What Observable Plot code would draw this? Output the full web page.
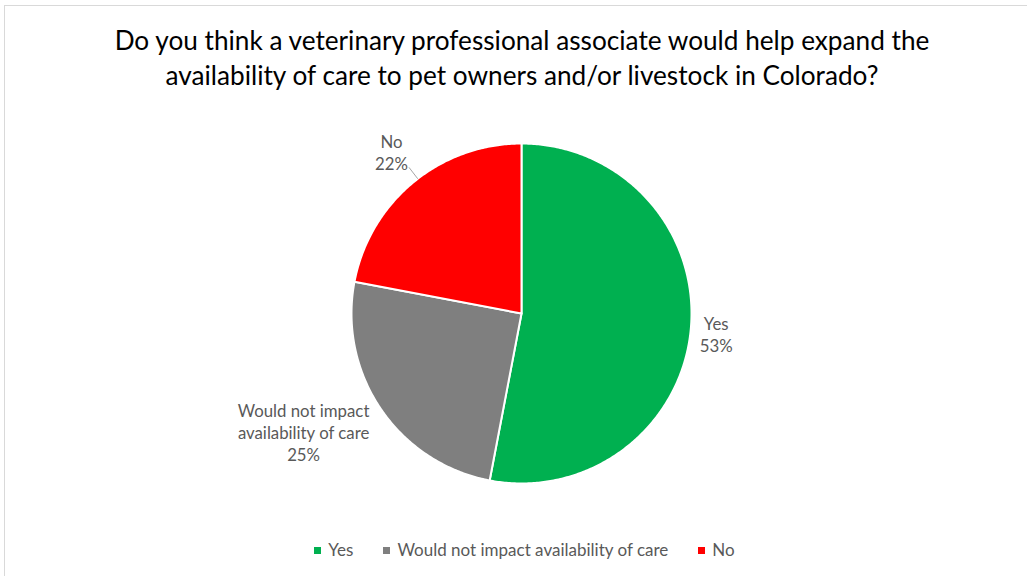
<!DOCTYPE html>
<html>
<head>
<meta charset="utf-8">
<script src="https://cdn.jsdelivr.net/npm/d3@7"></script>
<script src="https://cdn.jsdelivr.net/npm/@observablehq/plot@0.6"></script>
<style>
  html, body { margin: 0; padding: 0; background: #ffffff; }
  #frame { position: relative; width: 1027px; height: 576px; overflow: hidden; font-family: Lato, "Open Sans", sans-serif; }
  #frame .bt { position: absolute; left: 4px; top: 5px; right: 0; height: 0; border-top: 1px solid #d9d9d9; }
  #frame .bl { position: absolute; left: 4px; top: 5px; bottom: 0; width: 0; border-left: 1px solid #d9d9d9; }
  #title { position: absolute; left: 0; top: 23px; width: 1044px; text-align: center; font-size: 26.2px; line-height: 35px; color: #000; }
  #chart { position: absolute; left: 0; top: 110px; }
  #legend { position: absolute; left: 11px; top: 539px; width: 1027px; text-align: center; font-size: 17px; color: #595959; }
  #legend span.item { display: inline-block; margin: 0 15px; }
  #legend span.sw { display: inline-block; width: 7px; height: 7px; margin-right: 7px; vertical-align: middle; position: relative; top: -1px; }
</style>
</head>
<body>
<div id="frame">
  <div class="bt"></div><div class="bl"></div>
  <div id="title"></div>
  <div id="chart"></div>
  <div id="legend"></div>
</div>
<script>
// ---- data ----
const titleLines = [
  "Do you think a veterinary professional associate would help expand the",
  "availability of care to pet owners and/or livestock in Colorado?"
];
const categories = ["Yes", "Would not impact availability of care", "No"];
const labelLines = [["Yes"], ["Would not impact", "availability of care"], ["No"]];
const values = [53, 25, 22];
const colors = ["#00B050", "#7F7F7F", "#FF0000"];

// ---- layout ----
const W = 1027, H = 420;
const R = 170;             // pie radius in px
const cx = 521, cy = 203;  // pie centre inside the svg
const total = d3.sum(values);

// slices (clockwise from 12 o'clock)
let acc = 0;
const slices = categories.map((c, i) => {
  const a0 = acc / total * 2 * Math.PI;
  acc += values[i];
  const a1 = acc / total * 2 * Math.PI;
  return {cat: c, value: values[i], a0, a1, mid: (a0 + a1) / 2, i};
});

const pt = (a, r) => ({x: r * Math.sin(a), y: r * Math.cos(a)});

const wedgePts = [];
for (const s of slices) {
  wedgePts.push({cat: s.cat, ...pt(0, 0)});
  const n = Math.max(2, Math.ceil((s.a1 - s.a0) / 0.01));
  for (let k = 0; k <= n; k++) {
    wedgePts.push({cat: s.cat, ...pt(s.a0 + (s.a1 - s.a0) * k / n, 1)});
  }
  wedgePts.push({cat: s.cat, ...pt(0, 0)});
}

// label placement: radius factor along slice midpoint + pixel nudges
const labelRadius = [1.15, 1.5, 1.2];
const labelNudge = [[0, 4], [-7, -23], [0, -3]]; // [dx, dy] px, dy positive = down
const labelRows = [];
slices.forEach((s, i) => {
  const p = pt(s.mid, labelRadius[i]);
  const px = p.x + labelNudge[i][0] / R, py = p.y - labelNudge[i][1] / R;
  const lines = [...labelLines[i], Math.round(s.value / total * 100) + "%"];
  const lh = 22 / R;
  lines.forEach((t, j) => {
    labelRows.push({x: px, y: py - (j - (lines.length - 1) / 2) * lh, text: t});
  });
});

// leader line for the "No" label
const noSlice = slices[2];
const la = noSlice.mid + 0.035;
const leader = [{
  x1: pt(la, 1.0).x, y1: pt(la, 1.0).y,
  x2: pt(la, 1.085).x, y2: pt(la, 1.085).y
}];

const xDomain = [-cx / R, (W - cx) / R];
const yDomain = [-(H - cy) / R, cy / R];

const plot = Plot.plot({
  width: W, height: H,
  margin: 0,
  x: {domain: xDomain, axis: null},
  y: {domain: yDomain, axis: null},
  color: {domain: categories, range: colors},
  style: {background: "transparent", fontFamily: "Lato, 'Open Sans', sans-serif"},
  marks: [
    Plot.line(wedgePts, {x: "x", y: "y", z: "cat", fill: "cat", stroke: "#ffffff", strokeWidth: 2, strokeLinejoin: "round", curve: "linear"}),
    Plot.link(leader, {x1: "x1", y1: "y1", x2: "x2", y2: "y2", stroke: "#a6a6a6", strokeWidth: 1}),
    Plot.text(labelRows, {x: "x", y: "y", text: "text", fill: "#595959", fontSize: 16.8, textAnchor: "middle", lineAnchor: "middle"})
  ]
});
document.getElementById("chart").appendChild(plot);

// title
document.getElementById("title").innerHTML = titleLines.map(t => `<div>${t}</div>`).join("");

// legend
document.getElementById("legend").innerHTML = categories.map((c, i) =>
  `<span class="item"><span class="sw" style="background:${colors[i]}"></span>${c}</span>`).join("");
</script>
</body>
</html>
